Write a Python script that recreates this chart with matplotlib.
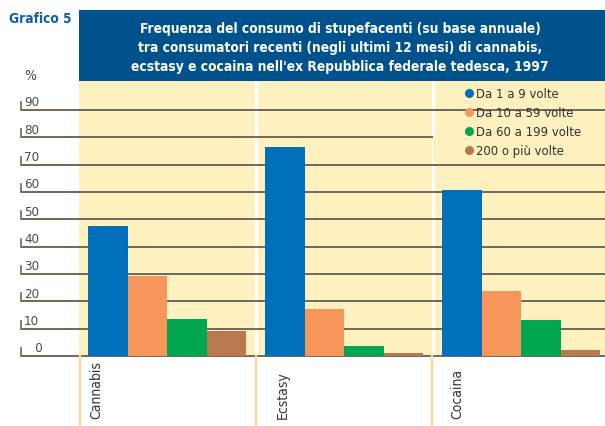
import matplotlib
matplotlib.use("Agg")
import matplotlib.pyplot as plt
from matplotlib.patches import Rectangle
from matplotlib.lines import Line2D
from matplotlib.transforms import blended_transform_factory
import numpy as np

categories = ["Cannabis", "Ecstasy", "Cocaina"]
series_labels = ["Da 1 a 9 volte", "Da 10 a 59 volte", "Da 60 a 199 volte", "200 o più volte"]
values = {
    "Da 1 a 9 volte": [47.5, 76.5, 60.8],
    "Da 10 a 59 volte": [29.3, 17.2, 23.8],
    "Da 60 a 199 volte": [13.5, 3.7, 13.2],
    "200 o più volte": [9.2, 1.0, 2.2],
}
yticks = [0, 10, 20, 30, 40, 50, 60, 70, 80, 90]
colors = ["#0070bb", "#f7965a", "#00a650", "#b87850"]

FONT = dict(family="DejaVu Sans", stretch="condensed")

W, H = 605, 427
fig = plt.figure(figsize=(W / 100, H / 100), dpi=100)

def fx(px):
    return px / W

def fy(py):
    return 1 - py / H

ax_l, ax_r, ax_t, ax_b = 79, 605, 82, 357
ax = fig.add_axes([fx(ax_l), fy(ax_b), fx(ax_r - ax_l), (ax_b - ax_t) / H])
ax.set_facecolor("#fff0c0")
for s in ax.spines.values():
    s.set_visible(False)
ax.set_xticks([])
ax.set_yticks([])

ppu = 177.0
ax.set_xlim(-88 / ppu, (605 - 167) / ppu)
pxu = 2.733
ymax = (ax_b - ax_t) / pxu
ax.set_ylim(0, ymax)

x = np.arange(len(categories))
bw = 39.5 / ppu

# separators
for sx in [0.5, 1.5]:
    ax.axvline(sx, color="white", lw=2.2, zorder=1)

# gridlines extending left of axes
tr = blended_transform_factory(ax.transAxes, ax.transData)
xleft = (21 - ax_l) / (ax_r - ax_l)
for yv in yticks:
    ax.plot([xleft, 1], [yv, yv], transform=tr, color="#6f675a", lw=1.4,
            clip_on=False, zorder=2, solid_capstyle="butt")
    ax.plot([xleft, xleft], [yv, yv + 8 / pxu], transform=tr, color="#6f675a",
            lw=1.2, clip_on=False, zorder=2)
    ax.text(xleft + 3 / (ax_r - ax_l), yv + 0.6, str(yv) if yv else "   0", transform=tr,
            ha="left", va="bottom", fontsize=9.5, color="#4a4a4a", **FONT)

# legend background box
lx0 = (433 - 167) / ppu
ax.add_patch(Rectangle((lx0, (357 - 163) / pxu), 2.6 - lx0, 10, facecolor="#fff0c0",
                       edgecolor="none", zorder=2.5))

for i, lab in enumerate(series_labels):
    ax.bar(x + (i - 1.5) * bw, values[lab], width=bw, color=colors[i], zorder=3,
           label=lab, linewidth=0)

# legend
handles = [Line2D([0], [0], marker="o", linestyle="none", markersize=5.5,
                  markerfacecolor=c, markeredgecolor=c) for c in colors]
leg = ax.legend(handles, series_labels, loc="upper left",
                bbox_to_anchor=((462 - ax_l) / (ax_r - ax_l), 1 - 6.5 / (ax_b - ax_t)),
                frameon=False, prop=dict(size=9.4, **FONT), labelcolor="#333333",
                handletextpad=0.1, handlelength=1.0, labelspacing=0.45,
                borderpad=0.0, borderaxespad=0.0)
leg.set_zorder(5)

# yellow lines below axis
for px in [80, 256, 432]:
    fig.add_artist(Line2D([fx(px), fx(px)], [fy(357), 0], color="#fcd98a", lw=1.6))

# category labels
for px, cat in zip([96, 283, 457], categories):
    fig.text(fx(px), fy(419), cat, rotation=90, ha="center", va="bottom",
             fontsize=10, color="#333333", **FONT)

# title box
fig.add_artist(Rectangle((fx(79), fy(82)), fx(605 - 79), (82 - 11) / H,
                         facecolor="#00528c", edgecolor="none", transform=fig.transFigure))
title = ("Frequenza del consumo di stupefacenti (su base annuale)\n"
         "tra consumatori recenti (negli ultimi 12 mesi) di cannabis,\n"
         "ecstasy e cocaina nell'ex Repubblica federale tedesca, 1997")
fig.text(fx(340), fy(48), title, ha="center", va="center", color="white",
         fontsize=9.9, fontweight="bold", linespacing=1.45, **FONT)
fig.text(fx(9), fy(19), "Grafico 5", ha="left", va="center", color="#1060a8",
         fontsize=9.8, fontweight="bold", **FONT)
fig.text(fx(30), fy(76), "%", ha="center", va="center", color="#444444",
         fontsize=10, **FONT)

fig.savefig("out.png", dpi=100)
